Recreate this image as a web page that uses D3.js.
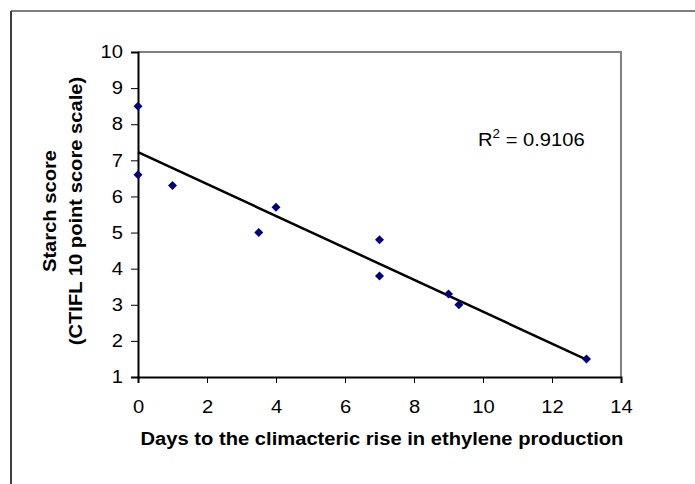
<!DOCTYPE html>
<html>
<head>
<meta charset="utf-8">
<script src="https://cdn.jsdelivr.net/npm/d3@7"></script>
<style>
  body { margin: 0; background: #fff; }
  svg { display: block; font-family: "Liberation Sans", Arial, sans-serif; }
</style>
</head>
<body>
<div id="chart"></div>
<script>
var w = 695;
var h = 484;

// data
var days = [0, 0, 1, 3.5, 4, 7, 7, 9, 9.3, 13];
var starch = [8.5, 6.6, 6.3, 5.0, 5.7, 4.8, 3.8, 3.3, 3.0, 1.5];
var xTicks = [0, 2, 4, 6, 8, 10, 12, 14];
var yTicks = [1, 2, 3, 4, 5, 6, 7, 8, 9, 10];
var rLabel = "0.9106";

var x = d3.scaleLinear().domain([0, 14]).range([138, 621]);
var y = d3.scaleLinear().domain([1, 10]).range([377, 52]);

// the source text is a little wider than Arial, stretch it sideways
var wide = 1.12;
function widen(sel) {
    sel.each(function() {
        var len = this.getComputedTextLength();
        d3.select(this)
            .attr("textLength", len * wide)
            .attr("lengthAdjust", "spacingAndGlyphs");
    });
}

var svg = d3.select("#chart")
            .append("svg")
                .attr("width", w)
                .attr("height", h);

// outer frame (only top and left edges are inside the picture)
svg.append("line")
    .attr("x1", 11).attr("y1", 11).attr("x2", w).attr("y2", 11)
    .attr("stroke", "#000").attr("stroke-width", 1);
svg.append("line")
    .attr("x1", 11).attr("y1", 11).attr("x2", 11).attr("y2", h)
    .attr("stroke", "#404040").attr("stroke-width", 2);

// plot area border, top and right in grey
svg.append("path")
    .attr("d", "M" + x(0) + "," + y(10) + "H" + x(14) + "V" + y(1))
    .attr("fill", "none")
    .attr("stroke", "#808080")
    .attr("stroke-width", 2);

var xAxis = svg.append("g")
    .attr("transform", "translate(0," + y(1) + ")")
    .call(d3.axisBottom(x).tickValues(xTicks).tickSize(6).tickPadding(17).tickFormat(d3.format("d")));

var yAxis = svg.append("g")
    .attr("transform", "translate(" + x(0) + ",0)")
    .call(d3.axisLeft(y).tickValues(yTicks).tickSize(7).tickPadding(8).tickFormat(d3.format("d")));

[xAxis, yAxis].forEach(function(a) {
    a.select(".domain").attr("stroke", "#000").attr("stroke-width", 2);
    a.selectAll(".tick line").attr("stroke", "#000");
    a.selectAll(".tick text")
        .attr("fill", "#000")
        .style("font-size", "18px")
        .style("font-family", "'Liberation Sans', Arial, sans-serif")
        .call(widen);
});

// least squares trend line
var mx = d3.mean(days), my = d3.mean(starch);
var sxy = d3.sum(days, function(d, i) { return (d - mx) * (starch[i] - my); });
var sxx = d3.sum(days, function(d) { return (d - mx) * (d - mx); });
var slope = sxy / sxx;
var icpt = my - slope * mx;
var ext = d3.extent(days);

svg.append("line")
    .attr("x1", x(ext[0])).attr("y1", y(icpt + slope * ext[0]))
    .attr("x2", x(ext[1])).attr("y2", y(icpt + slope * ext[1]))
    .attr("stroke", "#000")
    .attr("stroke-width", 2.5);

svg.selectAll("path.pt")
    .data(days)
    .enter()
        .append("path")
            .attr("class", "pt")
            .attr("d", "M0,-4.5L4.5,0L0,4.5L-4.5,0Z")
            .attr("transform", function(d, i) {
                return "translate(" + x(d) + "," + y(starch[i]) + ")";
            })
            .attr("fill", "#000080");

var r2 = svg.append("text")
    .attr("transform", "translate(478,146) scale(" + wide + ",1)")
    .style("font-size", "18px");
r2.append("tspan").text("R");
r2.append("tspan").attr("dy", -8).style("font-size", "12px").text("2");
r2.append("tspan").attr("dy", 8).text(" = " + rLabel);

svg.append("text")
    .attr("x", 382)
    .attr("y", 445)
    .attr("text-anchor", "middle")
    .style("font-size", "18px")
    .style("font-weight", "bold")
    .text("Days to the climacteric rise in ethylene production")
    .call(widen);

var yMid = 211;
var yTitle = [["Starch score", 56], ["(CTIFL 10 point score scale)", 82]];
yTitle.forEach(function(t) {
    svg.append("text")
        .attr("transform", "translate(" + t[1] + "," + yMid + ") rotate(-90)")
        .attr("text-anchor", "middle")
        .style("font-size", "18px")
        .style("font-weight", "bold")
        .text(t[0])
        .call(widen);
});
</script>
</body>
</html>
